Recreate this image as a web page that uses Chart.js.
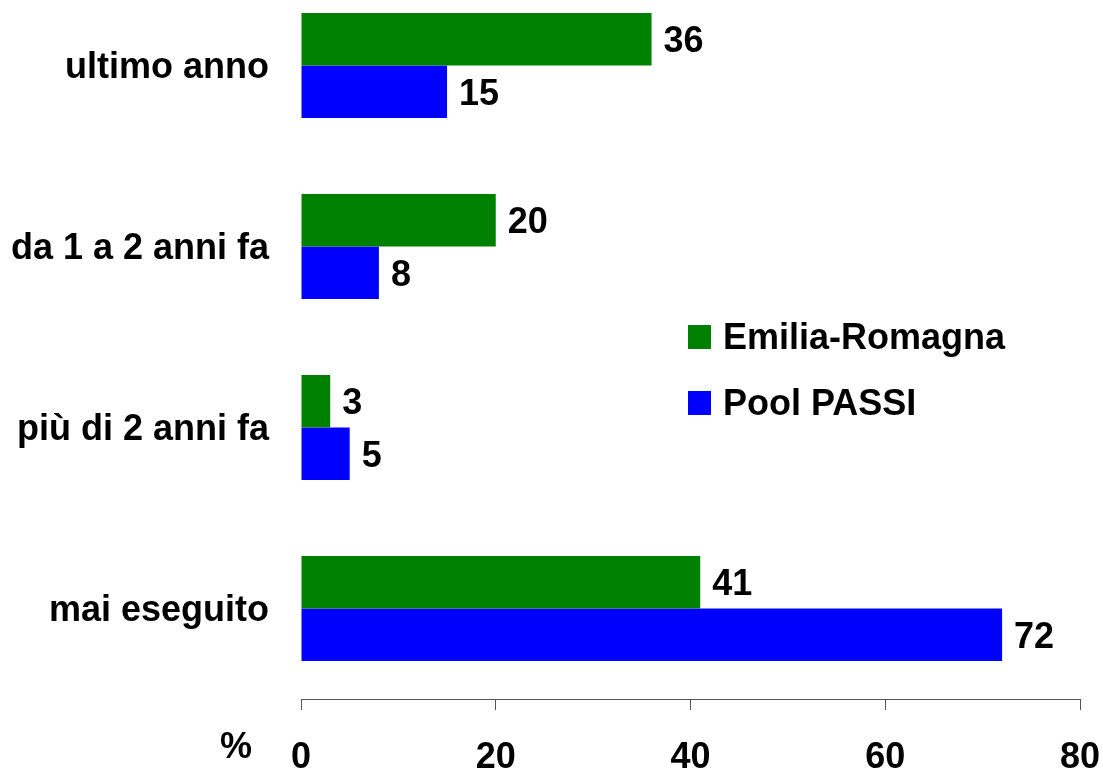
<!DOCTYPE html>
<html>
<head>
<meta charset="utf-8">
<script src="https://cdn.jsdelivr.net/npm/chart.js@4/dist/chart.umd.min.js"></script>
<style>
  html, body { margin: 0; padding: 0; background: #fff; overflow: hidden; }
  #wrap { position: absolute; left: 0; top: -25px; width: 1103px; height: 796px; }
</style>
</head>
<body>
<div id="wrap"><canvas id="chartPap" width="1103" height="796"></canvas></div>
<script>
// === DATA ===
const categorie = ['ultimo anno', 'da 1 a 2 anni fa', 'più di 2 anni fa', 'mai eseguito'];
const emiliaRomagna = [36, 20, 3, 41];
const poolPassi = [15, 8, 5, 72];
const xTicks = [0, 20, 40, 60, 80];

const FONT = '"Liberation Sans", Arial, sans-serif';

/**
 * Value labels drawn just to the right of each bar.
 */
const valueLabels = {
  id: 'valueLabels',
  afterDatasetsDraw(chart) {
    const ctx = chart.ctx;
    ctx.save();
    ctx.font = 'bold 36px ' + FONT;
    ctx.fillStyle = '#000';
    ctx.textAlign = 'left';
    ctx.textBaseline = 'middle';
    chart.data.datasets.forEach((ds, i) => {
      chart.getDatasetMeta(i).data.forEach((bar, j) => {
        ctx.fillText(String(ds.data[j]), bar.x + 12, bar.y + 3);
      });
    });
    ctx.restore();
  }
};

/**
 * Legend box inside the plot area + "%" unit beside the x axis.
 */
const sideLegend = {
  id: 'sideLegend',
  afterDraw(chart) {
    const ctx = chart.ctx;
    const area = chart.chartArea;
    ctx.save();
    ctx.font = 'bold 36px ' + FONT;
    ctx.textBaseline = 'middle';
    ctx.textAlign = 'left';
    const x0 = area.left + 387;
    chart.data.datasets.forEach((ds, i) => {
      const yc = area.top + 362 + i * 66;
      ctx.fillStyle = ds.backgroundColor;
      ctx.fillRect(x0, yc - 12, 23, 24);
      ctx.fillStyle = '#000';
      ctx.fillText(ds.label, x0 + 35, yc + 2);
    });

    // unit label for the value axis
    ctx.textAlign = 'right';
    ctx.fillText('%', area.left - 49, area.bottom + 49);
    ctx.restore();
  }
};

const ctx = document.getElementById('chartPap').getContext('2d');
const chartPap = new Chart(ctx, {
  type: 'bar',
  data: {
    labels: categorie,
    datasets: [
      { label: 'Emilia-Romagna', data: emiliaRomagna, backgroundColor: '#008000' },
      { label: 'Pool PASSI', data: poolPassi, backgroundColor: '#0000FF' }
    ]
  },
  options: {
    indexAxis: 'y',
    responsive: false,
    animation: false,
    categoryPercentage: 0.58,
    barPercentage: 1,
    layout: { padding: { top: 0, right: 23, bottom: 0, left: 0 } },
    plugins: {
      legend: { display: false },
      tooltip: { enabled: false }
    },
    scales: {
      x: {
        min: 0,
        max: 80,
        afterBuildTicks: scale => { scale.ticks = xTicks.map(v => ({ value: v })); },
        afterFit: scale => {
          scale.height = 72;
          scale.paddingLeft = 0;
          scale.paddingRight = 0;
        },
        grid: { drawOnChartArea: false, drawTicks: true, tickLength: 11, color: '#555', lineWidth: 1 },
        border: { display: true, color: '#555', width: 1 },
        ticks: {
          color: '#000',
          padding: 26,
          font: { family: FONT, size: 36, weight: 'bold' }
        }
      },
      y: {
        afterFit: scale => {
          scale.width = 301;
          scale.paddingTop = 0;
          scale.paddingBottom = 0;
        },
        grid: { display: false },
        border: { display: false },
        ticks: {
          color: '#000',
          padding: 24,
          labelOffset: 3,
          font: { family: FONT, size: 36, weight: 'bold' }
        }
      }
    }
  },
  plugins: [valueLabels, sideLegend]
});
</script>
</body>
</html>
